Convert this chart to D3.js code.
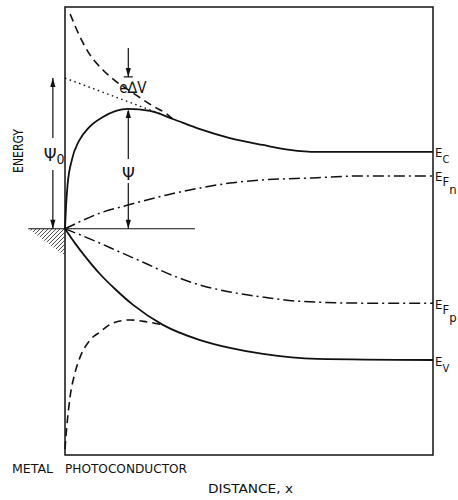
<!DOCTYPE html>
<html>
<head>
<meta charset="utf-8">
<script src="https://cdn.jsdelivr.net/npm/d3@7"></script>
<style>
  body { margin: 0; background: #fff; }
  svg text { font-family: "DejaVu Sans Condensed", "Liberation Sans Narrow", "Liberation Sans", sans-serif; fill: #111; }
  .band { fill: none; stroke: #111; stroke-width: 1.8; }
  .image { fill: none; stroke: #111; stroke-width: 1.6; stroke-dasharray: 8 5; }
  .quasi { fill: none; stroke: #111; stroke-width: 1.5; stroke-dasharray: 11 4 2 4; }
  .field { fill: none; stroke: #111; stroke-width: 1.4; stroke-dasharray: 1.5 3.5; }
  .thin { stroke: #111; stroke-width: 1.2; fill: none; }
</style>
</head>
<body>
<script>
// distance (0..100) vs energy (metal Fermi level = 0)
const ecBand = [[0, 0], [0.3, 10.6], [0.7, 19.6], [1.9, 31.0], [3.8, 39.2], [6.6, 45.4], [10.3, 49.9],
  [17.1, 53.5], [23.1, 52.6], [29.3, 49.0], [36.7, 44.5], [44.8, 40.5], [53.8, 37.4], [61.1, 35.2],
  [68.5, 34.3], [100, 34.3]];
const ecImage = [[1.4, 95.9], [4.1, 85.6], [6.8, 77.6], [10.3, 70.9], [14.1, 65.5], [18.5, 60.6],
  [23.9, 54.8], [27.7, 51.2], [29.3, 49.0]];
const ecField = [[0, 67.3], [26.5, 51.0]];
const efn = [[0, 0], [3.3, 2.6], [9.5, 7.0], [17.1, 10.6], [27.7, 15.1], [36.7, 18.2], [44.8, 20.4],
  [53.8, 21.8], [67.4, 22.7], [81.0, 23.6], [100, 23.6]];
const efp = [[0, 0], [8.2, -5.5], [14.9, -10.4], [21.7, -15.3], [27.7, -19.8], [36.7, -25.1],
  [44.8, -28.2], [53.8, -30.5], [63.0, -32.3], [81.0, -33.2], [100, -33.2]];
const evBand = [[0, 0], [2.7, -6.4], [5.4, -12.2], [9.5, -20.2], [13.6, -26.9], [18.5, -34.0],
  [26.6, -42.9], [36.7, -49.7], [44.8, -53.2], [53.8, -55.9], [68.5, -58.1], [100, -58.6]];
const evImage = [[0, -98.4], [0.5, -88.1], [1.4, -74.8], [2.7, -64.4], [4.1, -57.3], [6.8, -49.7],
  [9.5, -46.1], [13.0, -42.1], [17.7, -40.7], [22.3, -41.6], [26.6, -42.9]];

// annotation positions (data units)
const psiX = 17.2;           // psi and e.dV arrows
const psiTop = 53.5;
const dvTop = 80.7, dvBottom = 67.8;
const psi0X = -3.3, psi0Top = 67.3;
const refLine = [-10, 35.3];

const rightLabels = [
  { e: 34.3, sub: 'C', sub2: null },
  { e: 23.6, sub: 'F', sub2: 'n' },
  { e: -33.2, sub: 'F', sub2: 'p' },
  { e: -58.6, sub: 'V', sub2: null }
];

const W = 458, H = 500;
const x = d3.scaleLinear().domain([0, 100]).range([65, 433]);
const y = d3.scaleLinear().domain([-101, 99]).range([455, 7]);

const svg = d3.select('body').append('svg').attr('width', W).attr('height', H);

const line = d3.line().x((d) => x(d[0])).y((d) => y(d[1])).curve(d3.curveMonotoneX);

// frame
svg.append('rect')
  .attr('x', x(0)).attr('y', y(99))
  .attr('width', x(100) - x(0)).attr('height', y(-101) - y(99))
  .attr('fill', 'none').attr('stroke', '#111').attr('stroke-width', 1.5);

// metal: hatching under reference level
const hatchClip = svg.append('clipPath').attr('id', 'hclip');
hatchClip.append('path')
  .attr('d', `M${x(refLine[0])},${y(0)}L${x(0)},${y(0)}L${x(0)},${y(-12)}Z`);
const hatch = svg.append('g').attr('clip-path', 'url(#hclip)');
d3.range(x(refLine[0]), x(0) + 30, 4).forEach((hx) => {
  hatch.append('line')
    .attr('x1', hx).attr('y1', y(0))
    .attr('x2', hx - 30).attr('y2', y(0) + 30)
    .attr('stroke', '#333').attr('stroke-width', 0.9);
});

svg.append('line').attr('class', 'thin')
  .attr('x1', x(refLine[0])).attr('x2', x(refLine[1]))
  .attr('y1', y(0)).attr('y2', y(0));

// curves
svg.append('path').datum(ecImage).attr('class', 'image').attr('d', line);
svg.append('path').datum(evImage).attr('class', 'image').attr('d', line);
svg.append('path').datum(ecField).attr('class', 'field').attr('d', d3.line().x((d) => x(d[0])).y((d) => y(d[1])));
svg.append('path').datum(efn).attr('class', 'quasi').attr('d', line);
svg.append('path').datum(efp).attr('class', 'quasi').attr('d', line);
svg.append('path').datum(ecBand).attr('class', 'band').attr('d', line);
svg.append('path').datum(evBand).attr('class', 'band').attr('d', line);

// arrows
function head(px, py, dir) {
  // dir: 1 = pointing down, -1 = pointing up
  svg.append('path')
    .attr('d', `M${px},${py}L${px - 2.6},${py - dir * 9}L${px + 2.6},${py - dir * 9}Z`)
    .attr('fill', '#111');
}
function vline(px, y1, y2) {
  svg.append('line').attr('class', 'thin')
    .attr('x1', px).attr('x2', px).attr('y1', y1).attr('y2', y2);
}

// psi
const px1 = x(psiX);
vline(px1, y(psiTop) + 2, y(psiTop) + 50);
vline(px1, y(psiTop) + 74, y(0));
head(px1, y(psiTop), -1);
head(px1, y(0), 1);
svg.append('text').attr('x', px1).attr('y', y(psiTop) + 71)
  .attr('text-anchor', 'middle').attr('font-size', 18).text('Ψ');

// e delta V
vline(px1, y(dvTop), y(dvBottom));
head(px1, y(dvBottom), 1);
svg.append('line').attr('class', 'thin')
  .attr('x1', px1 - 4.5).attr('x2', px1 + 4.5)
  .attr('y1', y(dvBottom)).attr('y2', y(dvBottom));
const dv = svg.append('text').attr('x', px1 - 9).attr('y', y(dvBottom) + 16).attr('font-size', 15);
dv.append('tspan').text('e');
dv.append('tspan').text('∆').attr('font-size', 16);
dv.append('tspan').text('V');

// psi 0
const px0 = x(psi0X);
vline(px0, y(psi0Top), y(psi0Top) + 60);
vline(px0, y(psi0Top) + 92, y(0));
head(px0, y(psi0Top), -1);
head(px0, y(0), 1);
const p0 = svg.append('text').attr('x', px0 - 9).attr('y', y(psi0Top) + 83).attr('font-size', 18);
p0.append('tspan').text('Ψ');
p0.append('tspan').text('0').attr('font-size', 14).attr('dy', 3);

// right side labels
rightLabels.forEach((d) => {
  const by = y(d.e) + 5.5;
  const t = svg.append('text').attr('x', x(100) + 2).attr('y', by).attr('font-size', 13);
  t.append('tspan').text('E');
  t.append('tspan').text(d.sub).attr('dy', d.sub === 'F' ? 5 : 6).attr('font-size', d.sub === 'F' ? 13 : 11);
  if (d.sub2) t.append('tspan').text(d.sub2).attr('dy', 8).attr('font-size', 13);
});

// axis captions
svg.append('text')
  .attr('transform', `translate(23,${151}) rotate(-90)`)
  .attr('text-anchor', 'middle').attr('font-size', 14)
  .attr('textLength', 44).attr('lengthAdjust', 'spacingAndGlyphs')
  .text('ENERGY');
svg.append('text').attr('x', 12).attr('y', 473).attr('font-size', 12.5)
  .attr('textLength', 41).attr('lengthAdjust', 'spacingAndGlyphs').text('METAL');
svg.append('text').attr('x', 65).attr('y', 473).attr('font-size', 12.5)
  .attr('textLength', 122).attr('lengthAdjust', 'spacingAndGlyphs').text('PHOTOCONDUCTOR');
svg.append('text').attr('x', 208).attr('y', 493).attr('font-size', 12.5)
  .attr('textLength', 85).attr('lengthAdjust', 'spacingAndGlyphs').text('DISTANCE, x');
</script>
</body>
</html>
